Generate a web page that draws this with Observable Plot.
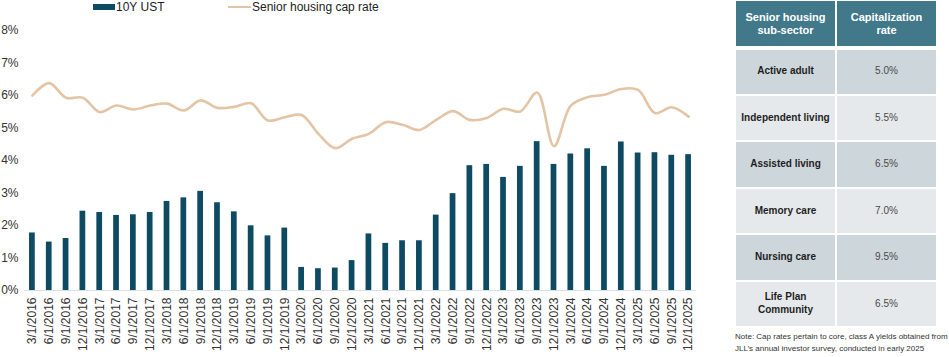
<!DOCTYPE html>
<html>
<head>
<meta charset="utf-8">
<script src="https://cdn.jsdelivr.net/npm/d3@7"></script>
<script src="https://cdn.jsdelivr.net/npm/@observablehq/plot@0.6"></script>
<style>
  html, body { margin: 0; padding: 0; background: #fff; }
  body { font-family: "Liberation Sans", Arial, sans-serif; }
  #wrap { position: relative; width: 949px; height: 357px; overflow: hidden; }
  #chart { position: absolute; left: 0; top: 0; }
  .legend { position: absolute; top: 0px; font-size: 12px; color: #222; white-space: nowrap; line-height: 14px; }
  .legend .sw { display: inline-block; vertical-align: middle; margin-right: 1px; position: relative; top: -1px; }
  #table { position: absolute; left: 736px; top: 1px; width: 200px; display: grid;
           grid-template-columns: 99px 99px; column-gap: 2px; }
  .cell { display: flex; align-items: center; justify-content: center; text-align: center;
          font-size: 10px; line-height: 12.7px; }
  .hd { background: #41798b; color: #fff; font-weight: bold; height: 45px; margin-bottom: 3.5px; font-size: 11px; line-height: 12.7px; }
  .rw { height: 44.2px; margin-bottom: 2.3px; }
  .dark { background: #cdd6db; }
  .light { background: #e6e9eb; }
  .lbl { font-weight: bold; color: #1e1e1e; }
  .val { color: #4a4a4a; }
  #note { position: absolute; left: 735px; top: 331px; font-size: 8px; line-height: 11.5px; color: #333; white-space: nowrap; }
</style>
</head>
<body>
<div id="wrap">
  <div id="chart"></div>
  <div class="legend" style="left:93px;"><span class="sw" style="width:22px;height:5.5px;background:#0e4a62;"></span>10Y UST</div>
  <div class="legend" style="left:228px;"><span class="sw" style="width:23px;height:2.5px;background:#e3c4a5;"></span>Senior housing cap rate</div>
  <div id="table"></div>
  <div id="note">Note: Cap rates pertain to core, class A yields obtained from<br>JLL’s annual investor survey, conducted in early 2025</div>
</div>
<script>
const quarters = [
  "3/1/2016","6/1/2016","9/1/2016","12/1/2016",
  "3/1/2017","6/1/2017","9/1/2017","12/1/2017",
  "3/1/2018","6/1/2018","9/1/2018","12/1/2018",
  "3/1/2019","6/1/2019","9/1/2019","12/1/2019",
  "3/1/2020","6/1/2020","9/1/2020","12/1/2020",
  "3/1/2021","6/1/2021","9/1/2021","12/1/2021",
  "3/1/2022","6/1/2022","9/1/2022","12/1/2022",
  "3/1/2023","6/1/2023","9/1/2023","12/1/2023",
  "3/1/2024","6/1/2024","9/1/2024","12/1/2024",
  "3/1/2025","6/1/2025","9/1/2025","12/1/2025"
];
const ust10y = [
  1.77, 1.49, 1.60, 2.44,
  2.40, 2.31, 2.33, 2.40,
  2.74, 2.85, 3.05, 2.70,
  2.42, 1.99, 1.68, 1.92,
  0.71, 0.67, 0.69, 0.92,
  1.74, 1.45, 1.53, 1.53,
  2.32, 2.98, 3.84, 3.88,
  3.48, 3.82, 4.58, 3.88,
  4.20, 4.36, 3.82, 4.57,
  4.23, 4.24, 4.16, 4.18
];
const capRate = [
  6.00, 6.38, 5.93, 5.93,
  5.49, 5.69, 5.57, 5.69,
  5.75, 5.54, 5.85, 5.62,
  5.65, 5.76, 5.23, 5.33,
  5.40, 4.82, 4.38, 4.67,
  4.82, 5.18, 5.10, 4.94,
  5.25, 5.52, 5.25, 5.31,
  5.59, 5.51, 6.09, 4.44,
  5.69, 5.95, 6.02, 6.20,
  6.17, 5.46, 5.64, 5.35
];
const yTicks = [0, 1, 2, 3, 4, 5, 6, 7, 8];
const subSectors = ["Active adult", "Independent living", "Assisted living", "Memory care", "Nursing care", "Life Plan<br>Community"];
const subRates = ["5.0%", "5.5%", "6.5%", "7.0%", "9.5%", "6.5%"];
const tableHeader = ["Senior housing<br>sub-sector", "Capitalization<br>rate"];

const data = quarters.map((q, i) => ({q, ust: ust10y[i], cap: capRate[i]}));

const chart = Plot.plot({
  width: 705,
  height: 357,
  marginLeft: 24,
  marginRight: 9,
  marginTop: 30,
  marginBottom: 67,
  style: {fontFamily: "'Liberation Sans', Arial, sans-serif", color: "#333", background: "transparent"},
  x: {type: "band", domain: quarters, paddingInner: 0.66, paddingOuter: 0.3, label: null},
  y: {domain: [0, 8], label: null},
  marks: [
    Plot.axisY({ticks: yTicks, tickSize: 0, tickPadding: 6, tickFormat: d => d + "%", fontSize: 12, fill: "#333"}),
    Plot.axisX({tickSize: 0, tickPadding: 7, tickRotate: -90, fontSize: 12, fill: "#333"}),
    Plot.barY(data, {x: "q", y: "ust", fill: "#0e4a62"}),
    Plot.ruleY([0], {stroke: "#d8dfe7", strokeWidth: 1.2}),
    Plot.line(data, {x: "q", y: "cap", stroke: "#e3c4a5", strokeWidth: 2.6, curve: "catmull-rom"})
  ]
});
document.getElementById("chart").appendChild(chart);

const table = document.getElementById("table");
let html = "";
tableHeader.forEach(h => { html += `<div class="cell hd">${h}</div>`; });
subSectors.forEach((s, i) => {
  const cls = i % 2 === 0 ? "dark" : "light";
  html += `<div class="cell rw ${cls} lbl">${s}</div><div class="cell rw ${cls} val">${subRates[i]}</div>`;
});
table.innerHTML = html;
</script>
</body>
</html>
